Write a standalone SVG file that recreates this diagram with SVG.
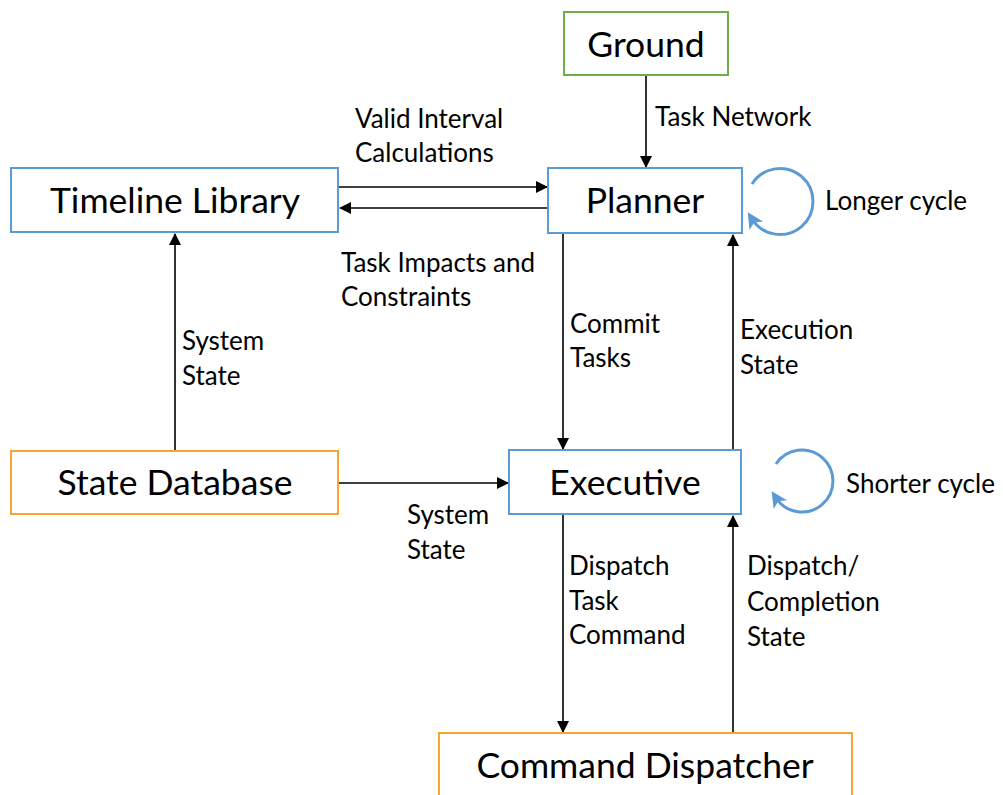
<svg xmlns="http://www.w3.org/2000/svg" width="1003" height="795" viewBox="0 0 1003 795">
<defs>
<marker id="ah" markerWidth="12" markerHeight="12" refX="11" refY="6" orient="auto" markerUnits="userSpaceOnUse"><path d="M0,0 L12,6 L0,12 z" fill="#000"/></marker>
<marker id="bh" markerWidth="16" markerHeight="16" refX="8" refY="8" orient="auto" markerUnits="userSpaceOnUse"><path d="M0,0 L16,8 L0,16 L4,8 z" fill="#5b9bd5"/></marker>
<style>
.box{fill:#fff;stroke-width:2}
.blue{stroke:#5b9bd5}
.orange{stroke:#f7a531}
.green{stroke:#70ad47}
.bt{font-family:Lato,"Open Sans",sans-serif;font-size:35.5px;fill:#000;text-anchor:middle}
.lb{font-family:Lato,"Open Sans",sans-serif;font-size:26px;fill:#000}
.c{stroke:#000;stroke-width:1.6;fill:none;marker-end:url(#ah)}
.cyc{stroke:#5b9bd5;stroke-width:3;fill:none;marker-end:url(#bh)}
</style>
</defs>
<rect width="1003" height="795" fill="#fff"/>
<g id="connectors">
<line class="c" x1="646" y1="76" x2="646" y2="167"/>
<line class="c" x1="339" y1="187" x2="547" y2="187"/>
<line class="c" x1="547" y1="208" x2="340" y2="208"/>
<line class="c" x1="175" y1="450" x2="175" y2="234"/>
<line class="c" x1="339" y1="483" x2="508" y2="483"/>
<line class="c" x1="563" y1="234" x2="563" y2="449"/>
<line class="c" x1="733" y1="449" x2="733" y2="235"/>
<line class="c" x1="563" y1="515" x2="563" y2="732"/>
<line class="c" x1="733" y1="732" x2="733" y2="516"/>
<path class="cyc" d="M752,184 A33,33 0 1 1 752,219"/>
<path class="cyc" d="M776,464 A31,31 0 1 1 776,498"/>
</g>
<g id="ground"><rect class="box green" x="564" y="12" width="164" height="63"/><text class="bt" x="646" y="57">Ground</text></g>
<g id="planner"><rect class="box blue" x="548" y="168" width="194" height="65"/><text class="bt" x="645" y="213">Planner</text></g>
<g id="timeline"><rect class="box blue" x="11" y="168" width="327" height="64"/><text class="bt" x="175" y="213">Timeline Library</text></g>
<g id="statedb"><rect class="box orange" x="11" y="451" width="327" height="63"/><text class="bt" x="175" y="495">State Database</text></g>
<g id="executive"><rect class="box blue" x="509" y="450" width="232" height="64"/><text class="bt" x="625" y="495">Executive</text></g>
<g id="dispatcher"><rect class="box orange" x="439" y="733" width="413" height="70"/><text class="bt" x="645" y="778">Command Dispatcher</text></g>
<g id="labels">
<text class="lb" x="655" y="126">Task Network</text>
<text class="lb" x="355" y="128">Valid Interval</text>
<text class="lb" x="355" y="162">Calculations</text>
<text class="lb" x="825" y="210">Longer cycle</text>
<text class="lb" x="341" y="272">Task Impacts and</text>
<text class="lb" x="341" y="306">Constraints</text>
<text class="lb" x="182" y="350">System</text>
<text class="lb" x="182" y="385">State</text>
<text class="lb" x="570" y="333">Commit</text>
<text class="lb" x="570" y="367">Tasks</text>
<text class="lb" x="740" y="339">Execution</text>
<text class="lb" x="740" y="374">State</text>
<text class="lb" x="846" y="493">Shorter cycle</text>
<text class="lb" x="407" y="524">System</text>
<text class="lb" x="407" y="559">State</text>
<text class="lb" x="569" y="575">Dispatch</text>
<text class="lb" x="569" y="610">Task</text>
<text class="lb" x="569" y="644">Command</text>
<text class="lb" x="747" y="575">Dispatch/</text>
<text class="lb" x="747" y="611">Completion</text>
<text class="lb" x="747" y="646">State</text>
</g>
</svg>
